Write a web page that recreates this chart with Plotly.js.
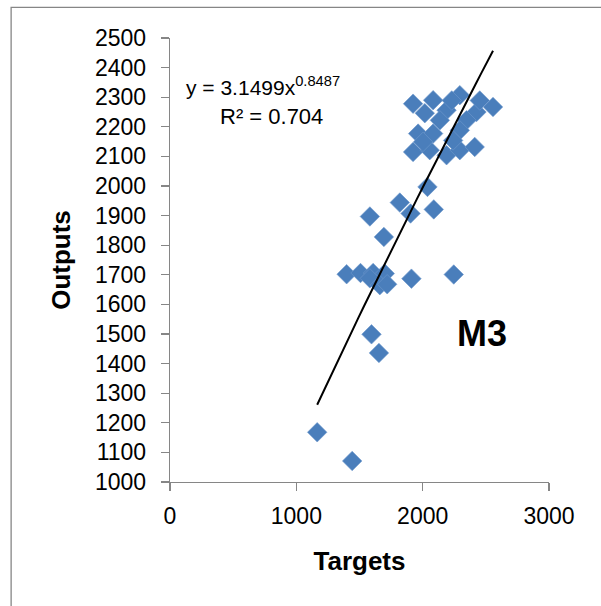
<!DOCTYPE html>
<html>
<head>
<meta charset="utf-8">
<script src="https://cdn.plot.ly/plotly-3.0.1.min.js"></script>
<style>
html,body{margin:0;padding:0;background:#fff;}
#chart{width:601px;height:606px;}
</style>
</head>
<body>
<div id="chart"></div>
<script>
// Data
const targets = [
  1165, 1442, 1595, 1654,
  1398, 1508, 1608, 1700, 1582, 1661, 1719, 1911, 2246,
  1582, 1693, 1819, 1904, 2038, 2088,
  1924, 2083, 2294, 2557, 2426, 2189, 2347, 1964, 2083, 2294,
  1924, 2056, 2189, 2294, 2412, 2241, 2003, 2136, 2017, 2230, 2452
];
const outputs = [
  1168, 1071, 1499, 1436,
  1702, 1706, 1706, 1704, 1688, 1665, 1668, 1687, 1701,
  1897, 1828, 1944, 1907, 1997, 1921,
  2278, 2290, 2307, 2267, 2250, 2256, 2222, 2177, 2177, 2188,
  2115, 2121, 2104, 2121, 2132, 2154, 2149, 2222, 2246, 2289, 2289
];
// Power trendline shown on the chart: y = A * x^B
const trendA = 3.1499;
const trendB = 0.8487;
const eqText = 'y = 3.1499x<sup>0.8487</sup>';
const r2Text = 'R² = 0.704';
const labelText = 'M3';
const xTicks = [0, 1000, 2000, 3000];
const yTicks = [1000,1100,1200,1300,1400,1500,1600,1700,1800,1900,2000,2100,2200,2300,2400,2500];

const xMin = Math.min(...targets), xMax = Math.max(...targets);
const tx = [], ty = [];
const N = 30;
for (let i = 0; i <= N; i++) {
  const x = xMin + (xMax - xMin) * i / N;
  tx.push(x); ty.push(trendA * Math.pow(x, trendB));
}

const fontFam = '"Liberation Sans", Arial, sans-serif';

const data = [
  {
    x: targets, y: outputs, type: 'scatter', mode: 'markers',
    marker: {symbol: 'diamond', size: 15, color: '#4A7EBB',
             line: {width: 0.6, color: '#6E98CC'}},
    hoverinfo: 'x+y', showlegend: false
  },
  {
    x: tx, y: ty, type: 'scatter', mode: 'lines',
    line: {color: '#000000', width: 2},
    hoverinfo: 'skip', showlegend: false
  }
];

const axisCommon = {
  showgrid: false, zeroline: false, showline: true,
  linecolor: '#868686', linewidth: 1.3,
  ticks: 'outside', ticklen: 8, tickwidth: 1.3, tickcolor: '#868686',
  tickfont: {family: fontFam, size: 23, color: '#000'},
  fixedrange: true
};

const layout = {
  width: 601, height: 606,
  margin: {l: 170, r: 52, t: 38, b: 124},
  paper_bgcolor: '#fff', plot_bgcolor: '#fff',
  showlegend: false,
  xaxis: Object.assign({}, axisCommon, {
    range: [0, 3000], tickvals: xTicks, ticktext: xTicks.map(String),
    ticklabelstandoff: 5,
    title: {text: '<b>Targets</b>', font: {family: fontFam, size: 26, color: '#000'}, standoff: 24}
  }),
  yaxis: Object.assign({}, axisCommon, {
    range: [1000, 2500], tickvals: yTicks, ticktext: yTicks.map(String),
    ticklabelstandoff: 10,
    title: {text: '<b>Outputs</b>', font: {family: fontFam, size: 26, color: '#000'}, standoff: 16}
  }),
  annotations: [
    {x: 735, y: 2338, xref: 'x', yref: 'y', text: eqText, showarrow: false,
     font: {family: fontFam, size: 21, color: '#000'}},
    {x: 800, y: 2236, xref: 'x', yref: 'y', text: r2Text, showarrow: false,
     font: {family: fontFam, size: 22, color: '#000'}},
    {x: 2468, y: 1502, xref: 'x', yref: 'y', text: '<b>' + labelText + '</b>', showarrow: false,
     font: {family: fontFam, size: 36, color: '#000'}}
  ],
  shapes: [
    {type: 'rect', xref: 'paper', yref: 'paper',
     x0: -0.4192, x1: 1.2, y0: -0.35, y1: 1.069,
     line: {color: '#868686', width: 1.3}, fillcolor: 'rgba(0,0,0,0)', layer: 'below'}
  ]
};

Plotly.newPlot('chart', data, layout, {displayModeBar: false, staticPlot: true});
</script>
</body>
</html>
